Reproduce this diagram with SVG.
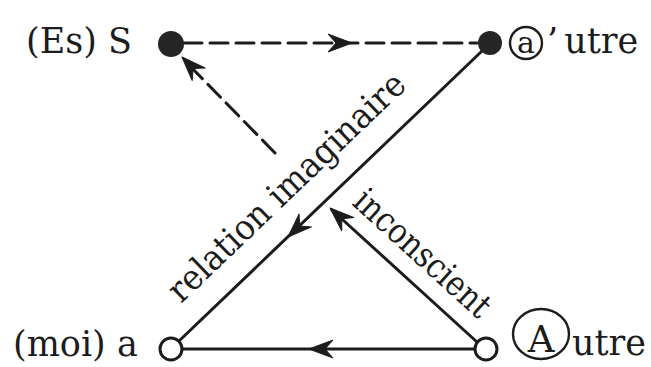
<svg xmlns="http://www.w3.org/2000/svg" xmlns:xlink="http://www.w3.org/1999/xlink" width="651" height="367" viewBox="0 0 651 367">
<style>
.lbl{font-family:"DejaVu Serif","Liberation Serif",serif;font-size:35px;fill:#1c1c1c}
.ed{fill:none;stroke:#1c1c1c;stroke-width:3;stroke-linecap:round}
.dash{stroke-dasharray:18 8}
.dot{fill:#262626}
.ring{fill:#fff;stroke:#1c1c1c;stroke-width:3}
.enc{fill:none;stroke:#1c1c1c;stroke-width:2.4}
</style>
<defs>
<path id="ah" d="M0,0 L-24,-9 L-16,0 L-24,9 Z" fill="#1c1c1c" stroke="#1c1c1c" stroke-width="1" stroke-linejoin="round"/>
</defs>
<rect width="651" height="367" fill="#fff"/>
<g id="connectors">
<path class="ed dash" d="M184,43 L477,43"/>
<use xlink:href="#ah" transform="translate(352,43)"/>
<path class="ed dash" d="M275,153 L190,66"/>
<use xlink:href="#ah" transform="translate(182,57) rotate(-134)"/>
<path class="ed" d="M482,51 L179,341"/>
<use xlink:href="#ah" transform="translate(288,237) rotate(136.2)"/>
<path class="ed" d="M477,342 L332,210"/>
<use xlink:href="#ah" transform="translate(330,208) rotate(-137.7)"/>
<path class="ed" d="M475,349 L183,349"/>
<use xlink:href="#ah" transform="translate(309,349) rotate(180)"/>
<text class="lbl" transform="translate(181,304) rotate(-43.7)" textLength="314" lengthAdjust="spacingAndGlyphs">relation imaginaire</text>
<text class="lbl" transform="translate(351,204) rotate(42.3)" textLength="172" lengthAdjust="spacingAndGlyphs">inconscient</text>
</g>
<g id="node-S">
<circle class="dot" cx="171" cy="44" r="13"/>
<text class="lbl" x="26" y="53">(Es) S</text>
</g>
<g id="node-autre-a">
<circle class="dot" cx="490" cy="43" r="12"/>
<circle class="enc" cx="526" cy="43" r="16"/>
<text class="lbl" x="526" y="53" text-anchor="middle" style="font-size:30px">a</text>
<text class="lbl" x="547" y="53">’<tspan dx="6">utre</tspan></text>
</g>
<g id="node-moi">
<circle class="ring" cx="171" cy="349" r="11"/>
<text class="lbl" x="13" y="356">(moi) a</text>
</g>
<g id="node-Autre">
<circle class="ring" cx="486" cy="349" r="11"/>
<ellipse class="enc" cx="541" cy="334" rx="28" ry="25"/>
<text class="lbl" x="541" y="352" text-anchor="middle" style="font-size:37px">A</text>
<text class="lbl" x="646" y="355" text-anchor="end">utre</text>
</g>
</svg>
